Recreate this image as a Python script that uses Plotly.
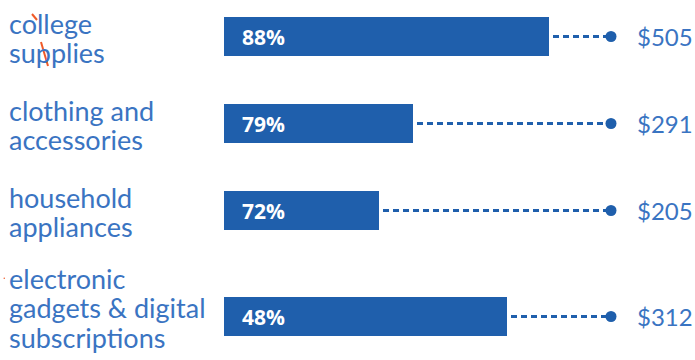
import plotly.graph_objects as go

categories = ["college<br>supplies", "clothing and<br>accessories", "household<br>appliances",
              "electronic<br>gadgets & digital<br>subscriptions"]
share_pct = [88, 79, 72, 48]
spend_usd = [505, 291, 205, 312]
bar_length = [325, 189, 155, 283]   # displayed bar length (arbitrary units as drawn)

BAR = "#1f5fac"
TXT = "#3a74c2"
LABEL_FONT = "Lato"
LABEL_SIZE = 27
PITCH = 29.5

# vertical layout: slot height depends on number of label lines
centers = []
prev_half = None
y = 36.5
for c in categories:
    n = c.count("<br>") + 1
    h = 87 + 38 * (n - 2)
    if prev_half is not None:
        y += prev_half + h / 2
    centers.append(y)
    prev_half = h / 2

BASE = 224
DOT_X = 611

fig = go.Figure()
fig.add_trace(go.Bar(
    y=centers, x=bar_length, base=BASE, orientation="h", width=39,
    marker=dict(color=BAR, line=dict(width=0)), hoverinfo="skip", showlegend=False,
))

for yc, ln in zip(centers, bar_length):
    fig.add_trace(go.Scatter(
        x=[BASE + ln + 4, DOT_X], y=[yc, yc], mode="lines",
        line=dict(color=BAR, width=3, dash="6px,4px"),
        hoverinfo="skip", showlegend=False,
    ))
fig.add_trace(go.Scatter(
    x=[DOT_X] * len(centers), y=centers, mode="markers",
    marker=dict(color=BAR, size=11), hoverinfo="skip", showlegend=False,
))

ann = []
for c, yc, p, s in zip(categories, centers, share_pct, spend_usd):
    lines = c.split("<br>")
    n = len(lines)
    first_base = yc - 3 - 25 * (n - 2)
    for i, t in enumerate(lines):
        base_y = first_base + i * PITCH
        ann.append(dict(x=7, y=base_y - 0.387 * LABEL_SIZE, xref="x", yref="y", text=t,
                        showarrow=False, xanchor="left", yanchor="middle", align="left",
                        font=dict(family=LABEL_FONT, size=LABEL_SIZE, color=TXT)))
    ann.append(dict(x=240, y=yc, xref="x", yref="y", text=f"<b>{p}%</b>", showarrow=False,
                    xanchor="left", yanchor="middle",
                    font=dict(family="Open Sans", size=21, color="white")))
    ann.append(dict(x=635, y=yc, xref="x", yref="y", text=f"${s}", showarrow=False,
                    xanchor="left", yanchor="middle",
                    font=dict(family=LABEL_FONT, size=24, color=TXT)))

shapes = [
    dict(type="line", x0=32, y0=14, x1=37, y1=20, xref="x", yref="y",
         line=dict(color="#f05a28", width=2)),
    dict(type="line", x0=41, y0=42, x1=48, y1=66, xref="x", yref="y",
         line=dict(color="#f05a28", width=2), layer="below"),
    dict(type="circle", x0=3.5, y0=277.5, x1=5, y1=279, xref="x", yref="y",
         line=dict(width=0), fillcolor="#f05a28"),
]

fig.update_layout(
    width=695, height=360, margin=dict(l=0, r=0, t=0, b=0),
    paper_bgcolor="white", plot_bgcolor="white",
    xaxis=dict(range=[0, 695], visible=False, fixedrange=True),
    yaxis=dict(range=[360, 0], visible=False, fixedrange=True),
    annotations=ann, shapes=shapes, bargap=0,
)
fig.write_html("out.html")
